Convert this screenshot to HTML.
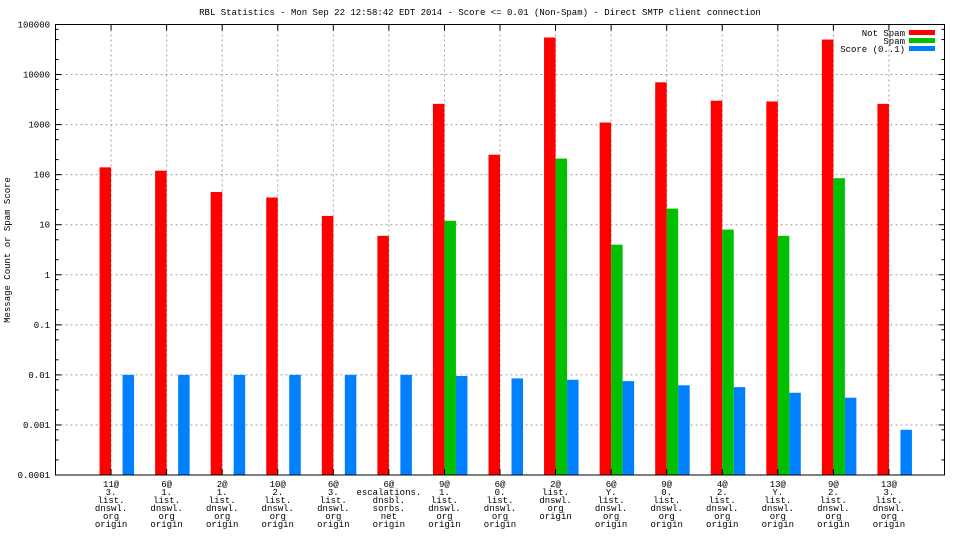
<!DOCTYPE html>
<html><head><meta charset="utf-8"><style>
body{margin:0;background:#fff}
svg text{font-family:"Liberation Mono","DejaVu Sans Mono",monospace;font-size:9px;fill:#000}
</style></head><body>
<svg id="chart" width="960" height="540" viewBox="0 0 960 540" xmlns="http://www.w3.org/2000/svg">
<text x="480" y="15" text-anchor="middle">RBL Statistics - Mon Sep 22 12:58:42 EDT 2014 - Score &lt;= 0.01 (Non-Spam) - Direct SMTP client connection</text>
<text transform="translate(10,250) rotate(-90)" text-anchor="middle">Message Count or Spam Score</text>
<g id="grid"></g><g id="bars"></g><g id="axes"></g>
<g>
<text x="905" y="36" text-anchor="end">Not Spam</text>
<rect x="909" y="30" width="26" height="5" fill="#ff0000"/>
<text x="905" y="44" text-anchor="end">Spam</text>
<rect x="909" y="38" width="26" height="5" fill="#00c000"/>
<text x="905" y="52" text-anchor="end">Score (0..1)</text>
<rect x="909" y="46" width="26" height="5" fill="#0080ff"/>
</g>
</svg>
<script>
const categories=[["11@","3.","list.","dnswl.","org","origin"],["6@","1.","list.","dnswl.","org","origin"],["2@","1.","list.","dnswl.","org","origin"],["10@","2.","list.","dnswl.","org","origin"],["6@","3.","list.","dnswl.","org","origin"],["6@","escalations.","dnsbl.","sorbs.","net","origin"],["9@","1.","list.","dnswl.","org","origin"],["6@","0.","list.","dnswl.","org","origin"],["2@","list.","dnswl.","org","origin"],["6@","Y.","list.","dnswl.","org","origin"],["9@","0.","list.","dnswl.","org","origin"],["4@","2.","list.","dnswl.","org","origin"],["13@","Y.","list.","dnswl.","org","origin"],["9@","2.","list.","dnswl.","org","origin"],["13@","3.","list.","dnswl.","org","origin"]];
const notSpam=[140,120,45,35,15,6,2600,250,55000,1100,7000,3000,2900,50000,2600];
const spam=[null,null,null,null,null,null,12,null,210,4,21,8,6,85,null];
const score=[0.01,0.01,0.01,0.01,0.01,0.01,0.0095,0.0085,0.008,0.0075,0.0062,0.0057,0.0044,0.0035,0.0008];
const yTicks=[0.0001,0.001,0.01,0.1,1,10,100,1000,10000,100000];
const yTickLabels=["0.0001","0.001","0.01","0.1","1","10","100","1000","10000","100000"];

const L=55.5,R=944.5,T=24.5,B=475;
const NS="http://www.w3.org/2000/svg";
const step=(R-L)/(categories.length+1);
function xS(i){return L+step*(i+1);}
function yS(v){return B-(Math.log10(v)-Math.log10(yTicks[0]))/(Math.log10(yTicks[yTicks.length-1])-Math.log10(yTicks[0]))*(B-T);}
function mk(tag,attrs,parent){const e=document.createElementNS(NS,tag);for(const k in attrs)e.setAttribute(k,attrs[k]);parent.appendChild(e);return e;}
const grid=document.getElementById('grid'),bars=document.getElementById('bars'),axes=document.getElementById('axes');
yTicks.forEach((v,i)=>{
  const y=yS(v);
  if(i>0&&i<yTicks.length-1){const g=mk('line',{x1:L,x2:R,y1:y,y2:y,stroke:'#a0a0a0','stroke-dasharray':'2,3'},grid);
  
  }
  const t=mk('text',{x:50,y:y+3,'text-anchor':'end'},axes);t.textContent=yTickLabels[i];
  
  
  mk('line',{x1:L,x2:L+6,y1:y,y2:y,stroke:'#000'},axes);mk('line',{x1:R,x2:R-6,y1:y,y2:y,stroke:'#000'},axes);
  if(i<yTicks.length-1){[2,5,8].forEach(m=>{const ym=yS(v*m);mk('line',{x1:L,x2:L+3,y1:ym,y2:ym,stroke:'#000'},axes);mk('line',{x1:R,x2:R-3,y1:ym,y2:ym,stroke:'#000'},axes);});}
});
const bw=11.5;
categories.forEach((c,i)=>{
  const x=xS(i);
  const g=mk('line',{x1:x,x2:x,y1:T,y2:B,stroke:'#a0a0a0','stroke-dasharray':'2,3'},grid);
  
  
  mk('line',{x1:x,x2:x,y1:T,y2:T+6,stroke:'#000'},axes);mk('line',{x1:x,x2:x,y1:B,y2:B-6,stroke:'#000'},axes);
  const r=mk('rect',{x:x-bw,y:yS(notSpam[i]),width:bw,height:B-yS(notSpam[i]),fill:'#ff0000'},bars);
  
  
  if(spam[i]){const s=mk('rect',{x:x,y:yS(spam[i]),width:bw,height:B-yS(spam[i]),fill:'#00c000'},bars);
  
  }
  const b=mk('rect',{x:x+bw,y:yS(score[i]),width:bw,height:B-yS(score[i]),fill:'#0080ff'},bars);
  
  
  const t=mk('text',{x:x,y:B+12,'text-anchor':'middle'},axes);
  
  
  c.forEach((ln,j)=>{const ts=mk('tspan',{x:x,dy:j?8:0},t);ts.textContent=ln;});
});
mk('rect',{x:L,y:T,width:R-L,height:B-T,fill:'none',stroke:'#000','stroke-width':1},axes);
</script>
</body></html>
